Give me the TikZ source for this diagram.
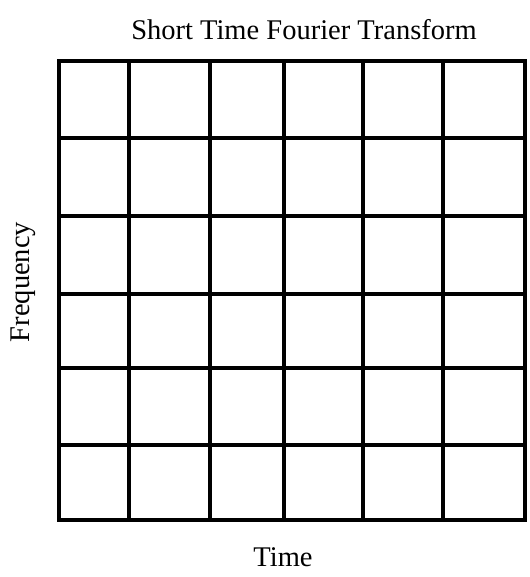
\documentclass[tikz,border=0pt]{standalone}
\usepackage{fontspec}
\setmainfont{Liberation Serif}
\begin{document}
\begin{tikzpicture}[x=1pt,y=-1pt,
  gridline/.style={line width=3.2pt, line cap=rect},
  lbl/.style={font=\fontsize{28.5}{32}\selectfont, inner sep=0pt}]
\useasboundingbox (0,0) rectangle (529,577);
% vertical lines
\foreach \x in {59,129,210,284,363,443,525}
  \draw[gridline] (\x,61) -- (\x,520);
% horizontal lines
\foreach \y in {61,138,216,294,368,445,520}
  \draw[gridline] (59,\y) -- (525,\y);
\node[lbl] (title) at (304,30) {Short Time Fourier Transform};
\node[lbl, rotate=90] (freq) at (23,282) {Frequency};
\node[lbl] (time) at (283,557) {Time};
\end{tikzpicture}
\end{document}
